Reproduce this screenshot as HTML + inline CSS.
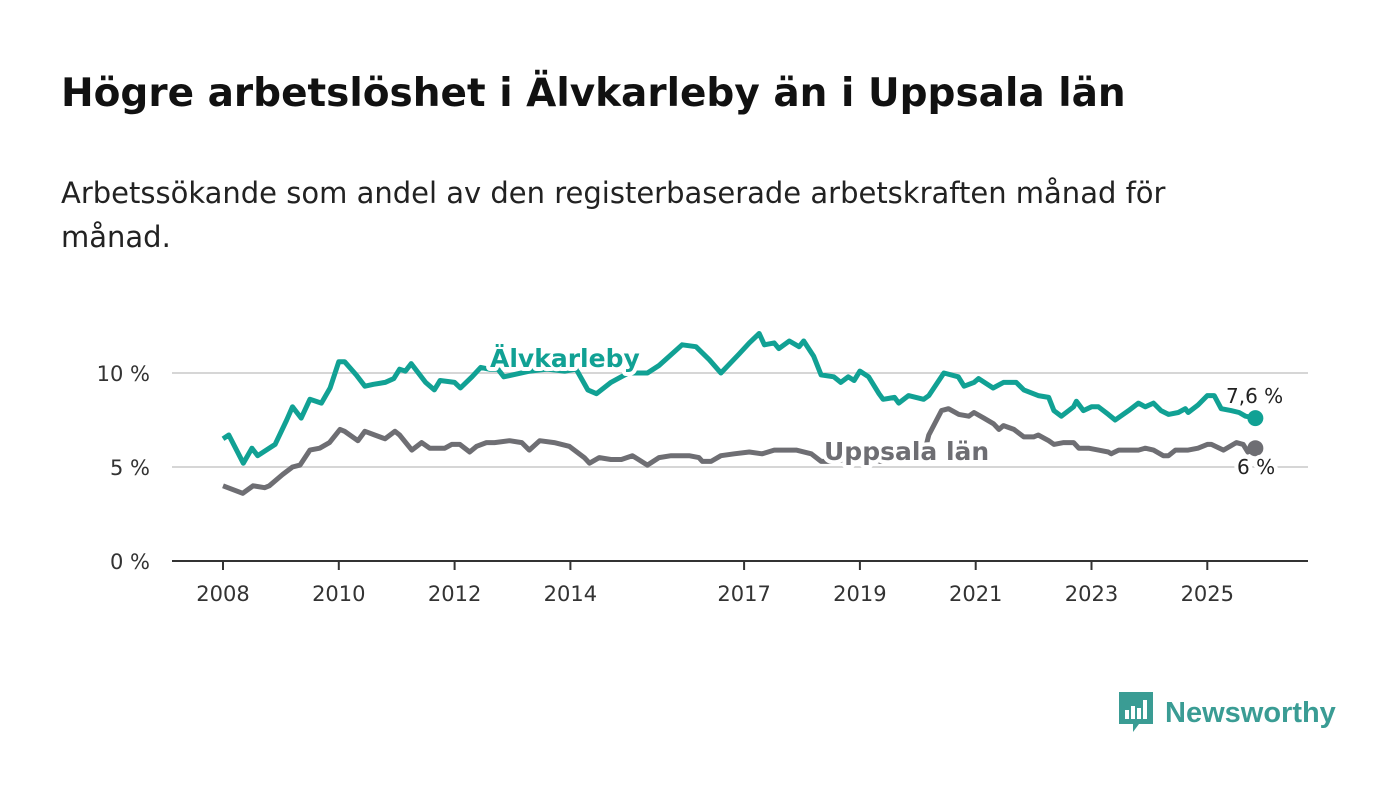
<!DOCTYPE html>
<html><head><meta charset="utf-8"><style>
body{margin:0;background:#fff;width:1400px;height:794px;overflow:hidden;font-family:"DejaVu Sans","Liberation Sans",sans-serif}
h1{position:absolute;left:61px;top:71px;margin:0;font-size:39px;font-weight:bold;color:#111;white-space:nowrap}
p{position:absolute;left:61px;top:171px;margin:0;font-size:29px;line-height:44px;color:#222;width:1195px}
svg{position:absolute;left:0;top:0}
</style></head><body>
<h1>Högre arbetslöshet i Älvkarleby än i Uppsala län</h1>
<p>Arbetssökande som andel av den registerbaserade arbetskraften månad för<br>månad.</p>
<svg id="c" width="1400" height="794"></svg>
<script>
const xTicks=[2008,2010,2012,2014,2017,2019,2021,2023,2025];
const yTicks=[0,5,10];
const tealYears=[2008.0,2008.1,2008.35,2008.5,2008.6,2008.9,2009.1,2009.2,2009.35,2009.5,2009.7,2009.85,2010.0,2010.1,2010.3,2010.45,2010.6,2010.8,2010.95,2011.05,2011.15,2011.25,2011.5,2011.65,2011.75,2012.0,2012.1,2012.3,2012.45,2012.6,2012.75,2012.85,2013.0,2013.3,2013.6,2013.9,2014.1,2014.3,2014.45,2014.7,2015.0,2015.33,2015.53,2015.93,2016.17,2016.4,2016.6,2016.91,2017.09,2017.26,2017.35,2017.52,2017.6,2017.78,2017.95,2018.03,2018.2,2018.33,2018.55,2018.67,2018.8,2018.9,2019.0,2019.15,2019.33,2019.4,2019.6,2019.67,2019.84,2020.1,2020.19,2020.45,2020.7,2020.8,2020.97,2021.05,2021.3,2021.48,2021.7,2021.83,2022.08,2022.26,2022.35,2022.48,2022.69,2022.74,2022.86,2023.0,2023.12,2023.29,2023.41,2023.64,2023.81,2023.93,2024.07,2024.2,2024.33,2024.5,2024.62,2024.67,2024.84,2025.0,2025.12,2025.24,2025.41,2025.55,2025.66,2025.83];
const tealVals=[6.5,6.7,5.2,6.0,5.6,6.2,7.5,8.2,7.6,8.6,8.4,9.2,10.6,10.6,9.9,9.3,9.4,9.5,9.7,10.2,10.1,10.5,9.5,9.1,9.6,9.5,9.2,9.8,10.3,10.2,10.2,9.8,9.9,10.1,10.2,10.1,10.2,9.1,8.9,9.5,10.0,10.0,10.4,11.5,11.4,10.7,10.0,11.0,11.6,12.1,11.5,11.6,11.3,11.7,11.4,11.7,10.9,9.9,9.8,9.5,9.8,9.6,10.1,9.8,8.9,8.6,8.7,8.4,8.8,8.6,8.8,10.0,9.8,9.3,9.5,9.7,9.2,9.5,9.5,9.1,8.8,8.7,8.0,7.7,8.2,8.5,8.0,8.2,8.2,7.8,7.5,8.0,8.4,8.2,8.4,8.0,7.8,7.9,8.1,7.9,8.3,8.8,8.8,8.1,8.0,7.9,7.7,7.6];
const grayYears=[2008.0,2008.34,2008.52,2008.72,2008.8,2009.03,2009.2,2009.33,2009.5,2009.67,2009.84,2010.02,2010.1,2010.33,2010.45,2010.62,2010.8,2010.97,2011.05,2011.26,2011.43,2011.57,2011.83,2011.95,2012.09,2012.26,2012.38,2012.55,2012.69,2012.95,2013.16,2013.29,2013.47,2013.72,2013.98,2014.24,2014.33,2014.5,2014.7,2014.88,2015.07,2015.33,2015.53,2015.74,2016.05,2016.22,2016.28,2016.43,2016.6,2016.83,2017.09,2017.31,2017.52,2017.72,2017.9,2018.16,2018.33,2018.55,2018.75,2018.95,2019.15,2019.35,2019.55,2019.75,2019.95,2020.1,2020.19,2020.41,2020.53,2020.71,2020.88,2020.97,2021.14,2021.31,2021.4,2021.48,2021.66,2021.83,2022.0,2022.08,2022.26,2022.35,2022.52,2022.69,2022.78,2022.95,2023.12,2023.29,2023.34,2023.47,2023.64,2023.81,2023.93,2024.07,2024.24,2024.33,2024.45,2024.67,2024.84,2025.0,2025.07,2025.28,2025.5,2025.62,2025.7,2025.83];
const grayVals=[4.0,3.6,4.0,3.9,4.0,4.6,5.0,5.1,5.9,6.0,6.3,7.0,6.9,6.4,6.9,6.7,6.5,6.9,6.7,5.9,6.3,6.0,6.0,6.2,6.2,5.8,6.1,6.3,6.3,6.4,6.3,5.9,6.4,6.3,6.1,5.5,5.2,5.5,5.4,5.4,5.6,5.1,5.5,5.6,5.6,5.5,5.3,5.3,5.6,5.7,5.8,5.7,5.9,5.9,5.9,5.7,5.3,5.3,5.4,5.5,5.5,5.3,5.4,5.5,5.4,5.6,6.7,8.0,8.1,7.8,7.7,7.9,7.6,7.3,7.0,7.2,7.0,6.6,6.6,6.7,6.4,6.2,6.3,6.3,6.0,6.0,5.9,5.8,5.7,5.9,5.9,5.9,6.0,5.9,5.6,5.6,5.9,5.9,6.0,6.2,6.2,5.9,6.3,6.2,5.8,6.0];
const X=y=>223+(y-2008)*57.9, Y=v=>561-v*18.8;
const S=document.getElementById('c'),NS='http://www.w3.org/2000/svg';
function mk(t,a,txt){const e=document.createElementNS(NS,t);for(const k in a)e.setAttribute(k,a[k]);if(txt!==undefined)e.textContent=txt;S.appendChild(e);return e;}
yTicks.forEach(v=>{
 if(v>0){const g=mk('line',{x1:172,x2:1308,y1:Y(v),y2:Y(v),stroke:'#d6d6d6','stroke-width':2});
 
 }
 const t=mk('text',{x:150,y:Y(v)+8,'text-anchor':'end','font-size':21,fill:'#333'},v+' %');
 
 
});
const ax=mk('line',{x1:172,x2:1308,y1:561,y2:561,stroke:'#333','stroke-width':2});


xTicks.forEach(y=>{
 const l=mk('line',{x1:X(y),x2:X(y),y1:561,y2:570,stroke:'#333','stroke-width':2});
 
 
 const t=mk('text',{x:X(y),y:601,'text-anchor':'middle','font-size':21,fill:'#333'},y);
 
 
});
function line(ys,vs,col,name){
 const d=ys.map((y,i)=>(i?'L':'M')+X(y).toFixed(1)+','+Y(vs[i]).toFixed(1)).join('');
 const p=mk('path',{d:d,fill:'none',stroke:col,'stroke-width':5,'stroke-linejoin':'round'});
 
 
 const n=ys.length-1;
 const c=mk('circle',{cx:X(ys[n]),cy:Y(vs[n]),r:8,fill:col});
 
 
}
line(grayYears,grayVals,'#6e6e73','uppsala');
line(tealYears,tealVals,'#11a194','alvkarleby');
function lab(x,y,txt,col,sz,w,name){
 const t=mk('text',{x:x,y:y,'font-size':sz,'font-weight':w,fill:col,stroke:'#fff','stroke-width':8,'paint-order':'stroke','stroke-linejoin':'round'},txt);
 
 
}
lab(490,367,'Älvkarleby','#11a194',25,'bold','alvkarleby-label');
lab(824,460,'Uppsala län','#6e6e73',25,'bold','uppsala-label');
lab(1226,403,'7,6 %','#222',20,'normal','alvkarleby-end-value');
lab(1237,474,'6 %','#222',20,'normal','uppsala-end-value');
</script>
<div style="position:absolute;left:1119px;top:692px;display:flex;align-items:center;font-family:'Liberation Sans',sans-serif">
<svg width="36" height="42" style="position:static"><path d="M0 0h34v32h-14l-6 8v-8H0z" fill="#3a9c94"/><rect x="6" y="18" width="4" height="9" fill="#fff"/><rect x="12" y="14" width="4" height="13" fill="#fff"/><rect x="18" y="16" width="4" height="11" fill="#fff"/><rect x="24" y="8" width="4" height="19" fill="#fff"/></svg>
<span style="margin-left:10px;font-size:29px;font-weight:bold;color:#3a9c94">Newsworthy</span></div>
</body></html>
